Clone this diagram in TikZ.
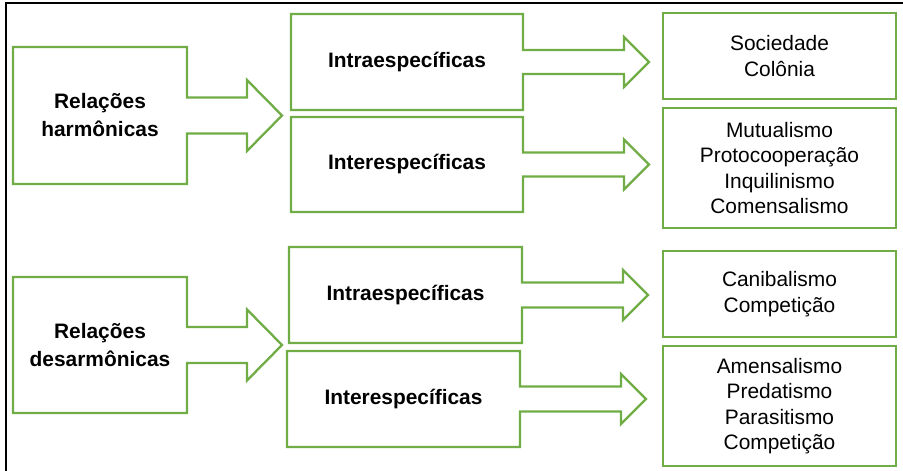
\documentclass[tikz,border=0pt]{standalone}
\usepackage{fontspec}
\setmainfont{Liberation Sans}
\definecolor{leafgreen}{RGB}{112,173,71}

\tikzset{
  greenline/.style={draw=leafgreen, line width=2.3pt, line join=miter},
  plaintext/.style={font=\fontsize{20.9}{25.5}\selectfont, align=center, inner sep=0pt, outer sep=0pt},
  headtext/.style={font=\fontsize{20.9}{28}\selectfont\bfseries, align=center, inner sep=0pt, outer sep=0pt},
  listbox/.style={plaintext, greenline, minimum width=233pt},
}

% box with an arrow on its right side
\newcommand{\arrowbox}[5]{%
  \draw[greenline] (#1.north west) -- (#1.north east) -- ([yshift=#2]#1.east)
    -- ([xshift=#4,yshift=#2]#1.east) -- ([xshift=#4,yshift=#3]#1.east)
    -- ([xshift=#5]#1.east)
    -- ([xshift=#4,yshift=-#3]#1.east) -- ([xshift=#4,yshift=-#2]#1.east)
    -- ([yshift=-#2]#1.east) -- (#1.south east) -- (#1.south west) -- cycle;}

\begin{document}
\begin{tikzpicture}[x=1pt,y=-1pt]
    \useasboundingbox (0,0) rectangle (903,471);
    \draw[line width=2.5pt] (6,471) -- (6,3) -- (903,3);

    % harmonicas
    \node[headtext, minimum width=174pt, minimum height=137pt] (harm) at (100,115.5) {Relações\\harmônicas};
    \arrowbox{harm}{18pt}{35.5pt}{60pt}{95pt}

    \node[headtext, minimum width=232pt, minimum height=96pt] (intraH) at (407,62) {Intraespecíficas};
    \arrowbox{intraH}{12pt}{25pt}{101pt}{126pt}
    \node[headtext, minimum width=232pt, minimum height=95pt] (interH) at (407,164.5) {Interespecíficas};
    \arrowbox{interH}{12pt}{25pt}{101pt}{126pt}

    \node[listbox, minimum height=86pt] (socie) at (779.5,56) {Sociedade\\Colônia};
    \node[listbox, minimum height=120pt] (mutua) at (779.5,168) {Mutualismo\\Protocooperação\\Inquilinismo\\Comensalismo};

    % desarmonicas
    \node[headtext, minimum width=174pt, minimum height=136pt] (desarm) at (100,345) {Relações\\desarmônicas};
    \arrowbox{desarm}{18pt}{35.5pt}{60pt}{95pt}

    \node[headtext, minimum width=233pt, minimum height=96pt] (intraD) at (405.5,295) {Intraespecíficas};
    \arrowbox{intraD}{12.5pt}{25pt}{101pt}{126pt}
    \node[headtext, minimum width=233pt, minimum height=96pt] (interD) at (403.5,399) {Interespecíficas};
    \arrowbox{interD}{12.5pt}{25pt}{101pt}{126pt}

    \node[listbox, minimum height=86pt] (canib) at (779.5,294) {Canibalismo\\Competição};
    \node[listbox, minimum height=120pt] (amens) at (779.5,406) {Amensalismo\\Predatismo\\Parasitismo\\Competição};
\end{tikzpicture}
\end{document}
